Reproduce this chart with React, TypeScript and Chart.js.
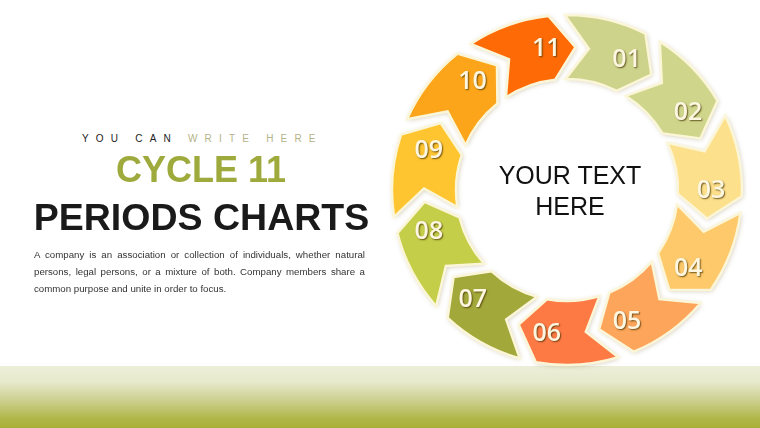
import React, { useEffect, useRef } from "react";
import { Chart, registerables } from "chart.js";

Chart.register(...registerables);

// ---- data ----
const periods = ["01", "02", "03", "04", "05", "06", "07", "08", "09", "10", "11"];
const shares = [1, 1, 1, 1, 1, 1, 1, 1, 1, 1, 1];
const segmentColors = [
  "#cdd38a",
  "#cfd68c",
  "#fde08c",
  "#fec96a",
  "#fda55a",
  "#fd7a45",
  "#a2a83a",
  "#c4ce48",
  "#fec531",
  "#fda51a",
  "#fd6a06",
];
const kicker = ["YOU CAN", "WRITE HERE"];
const titleLines = ["CYCLE 11", "PERIODS CHARTS"];
const bodyText =
  "A company is an association or collection of individuals, whether natural persons, legal persons, or a mixture of both. Company members share a common purpose and unite in order to focus.";
const centerLines = ["YOUR TEXT", "HERE"];

const DEG = Math.PI / 180;

const chevronPlugin = {
  id: "chevrons",
  beforeDatasetsDraw(chart: any) {
    const ctx = chart.ctx as CanvasRenderingContext2D;
    const meta = chart.getDatasetMeta(0);
    const g = 2.7 * DEG;
    const d = 9.5 * DEG;
    meta.data.forEach((arc: any) => {
      const { x, y, startAngle, endAngle, innerRadius, outerRadius } = arc.getProps([
        "x",
        "y",
        "startAngle",
        "endAngle",
        "innerRadius",
        "outerRadius",
      ]);
      const rm = (innerRadius + outerRadius) / 2;
      const a0 = startAngle + g;
      const a1 = endAngle - g;
      ctx.save();
      ctx.beginPath();
      ctx.arc(x, y, outerRadius, a0, a1);
      ctx.lineTo(x + rm * Math.cos(a1 + d), y + rm * Math.sin(a1 + d));
      ctx.lineTo(x + innerRadius * Math.cos(a1), y + innerRadius * Math.sin(a1));
      ctx.arc(x, y, innerRadius, a1, a0, true);
      ctx.lineTo(x + rm * Math.cos(a0 + d), y + rm * Math.sin(a0 + d));
      ctx.closePath();
      ctx.shadowColor = "rgba(110,90,30,0.35)";
      ctx.shadowBlur = 5;
      ctx.shadowOffsetX = 1;
      ctx.shadowOffsetY = 1;
      ctx.fillStyle = arc.options.backgroundColor;
      ctx.fill();
      ctx.shadowColor = "transparent";
      ctx.lineWidth = 2.5;
      ctx.strokeStyle = "#fcf6d8";
      ctx.stroke();
      ctx.restore();
    });
    const labels = chart.data.labels as string[];
    meta.data.forEach((arc: any, i: number) => {
      const { x, y, startAngle, endAngle } = arc.getProps(["x", "y", "startAngle", "endAngle"]);
      const a = (startAngle + endAngle) / 2 + 11.5 * DEG;
      const r = 144;
      ctx.save();
      ctx.font = "600 25px 'Open Sans', sans-serif";
      ctx.textAlign = "center";
      ctx.textBaseline = "middle";
      ctx.shadowColor = "rgba(70,50,0,0.75)";
      ctx.shadowBlur = 1.5;
      ctx.shadowOffsetX = 1;
      ctx.shadowOffsetY = 1;
      ctx.fillStyle = "#fdf7e1";
      ctx.fillText(labels[i], x + r * Math.cos(a), y + r * Math.sin(a) + 1);
      ctx.restore();
    });
    return false;
  },
};

function CycleChart() {
  const ref = useRef<HTMLCanvasElement | null>(null);
  useEffect(() => {
    if (!ref.current) return;
    const chart = new Chart(ref.current, {
      type: "doughnut",
      data: {
        labels: periods,
        datasets: [
          {
            data: shares,
            backgroundColor: segmentColors,
            borderWidth: 0,
          },
        ],
      },
      options: {
        responsive: false,
        maintainAspectRatio: false,
        animation: false,
        events: [],
        rotation: -3.4,
        cutout: "63.4%",
        layout: { padding: 5 },
        plugins: {
          legend: { display: false },
          tooltip: { enabled: false },
        },
      },
      plugins: [chevronPlugin],
    } as any);
    return () => chart.destroy();
  }, []);
  return <canvas ref={ref} width={360} height={360} style={{ width: 360, height: 360 }} />;
}

export default function App() {
  const font = "'Liberation Sans', Arial, sans-serif";
  return (
    <div
      style={{
        position: "absolute",
        left: 0,
        top: 0,
        width: 760,
        height: 428,
        overflow: "hidden",
        background: "#ffffff",
        fontFamily: font,
      }}
    >
      <div
        style={{
          position: "absolute",
          left: 0,
          top: 366,
          width: 760,
          height: 62,
          background:
            "linear-gradient(to bottom, #eceed8 0%, #e8eacd 25%, #c8cc85 60%, #b0b748 85%, #a8b038 100%)",
        }}
      />
      <div style={{ position: "absolute", left: 387, top: 10, width: 360, height: 360 }}>
        <CycleChart />
      </div>
      <div
        style={{
          position: "absolute",
          left: 470,
          top: 160,
          width: 200,
          textAlign: "center",
          fontSize: 25,
          lineHeight: "31px",
          color: "#111",
        }}
      >
        {centerLines.map((l) => (
          <div key={l}>{l}</div>
        ))}
      </div>
      <div
        style={{
          position: "absolute",
          left: 82,
          top: 132,
          fontSize: 10,
          lineHeight: "14px",
          letterSpacing: 7.2,
          whiteSpace: "nowrap",
        }}
      >
        <span style={{ color: "#222" }}>{kicker[0]} </span>
        <span style={{ color: "#b4b38a" }}>{kicker[1]}</span>
      </div>
      <div
        style={{
          position: "absolute",
          left: 0,
          top: 148,
          width: 402,
          textAlign: "center",
          fontSize: 36,
          fontWeight: "bold",
          lineHeight: "44px",
          color: "#9faa3c",
        }}
      >
        {titleLines[0]}
      </div>
      <div
        style={{
          position: "absolute",
          left: 0,
          top: 195,
          width: 403,
          textAlign: "center",
          fontSize: 37.5,
          fontWeight: "bold",
          lineHeight: "44px",
          color: "#1a1a1a",
          whiteSpace: "nowrap",
        }}
      >
        {titleLines[1]}
      </div>
      <div
        style={{
          position: "absolute",
          left: 34,
          top: 246,
          width: 331,
          fontSize: 9.7,
          lineHeight: "17px",
          color: "#333",
          textAlign: "justify",
        }}
      >
        {bodyText}
      </div>
    </div>
  );
}
